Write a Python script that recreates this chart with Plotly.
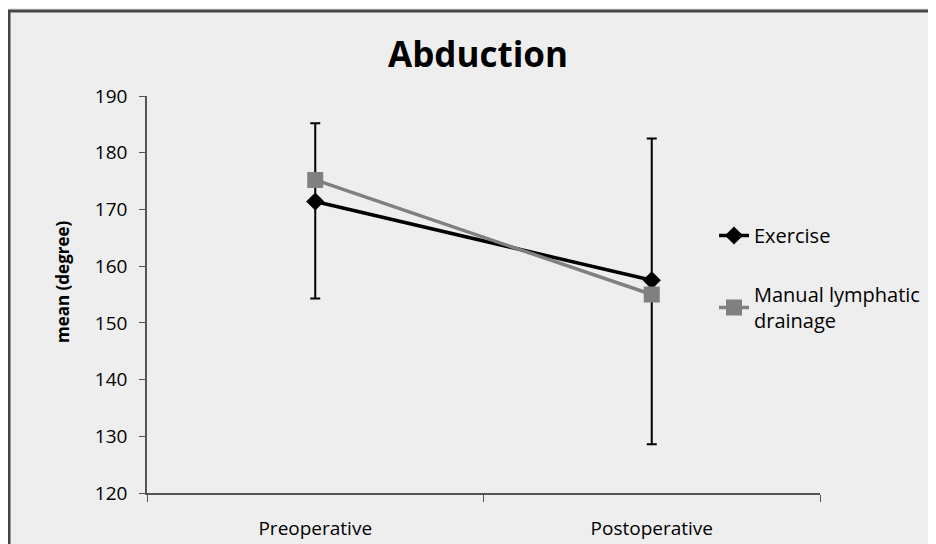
import plotly.graph_objects as go

categories = ["Preoperative", "Postoperative"]
exercise_mean = [171.4, 157.5]
exercise_err_plus = [13.8, 25.0]
exercise_err_minus = [17.1, 28.9]
mld_mean = [175.2, 155.0]
y_ticks = [120, 130, 140, 150, 160, 170, 180, 190]

W, H = 936, 544
OFF = 8  # page body offset in the screenshot
ml, mr, mt, mb = 147 - OFF, 936 - (820 - OFF), 96 - OFF, 544 - (493 - OFF)
pw, ph = W - ml - mr, H - mt - mb

FONT = "Open Sans"

fig = go.Figure()
fig.add_trace(go.Scatter(
    x=categories, y=exercise_mean, name="Exercise", mode="lines+markers",
    line=dict(color="#000000", width=3.5),
    marker=dict(symbol="diamond", size=14, color="#000000"),
    error_y=dict(type="data", symmetric=False, array=exercise_err_plus,
                 arrayminus=exercise_err_minus, color="#000000", thickness=2, width=5),
    legendgroup="a",
))
fig.add_trace(go.Scatter(
    x=categories, y=mld_mean, name="Manual lymphatic<br>drainage", mode="lines+markers",
    line=dict(color="#808080", width=3.5),
    marker=dict(symbol="square", size=16, color="#808080"),
    legendgroup="b",
))

bx = (9 - OFF - ml) / pw
by = 1 + (mt - (11 - OFF)) / ph
fig.add_shape(type="path", xref="paper", yref="paper",
              path=f"M {bx} -0.3 L {bx} {by} L 1.3 {by}",
              line=dict(color="#454545", width=3))

fig.add_annotation(text="<b>mean (degree)</b>", textangle=-90, showarrow=False,
                   xref="paper", yref="paper",
                   x=(62 - OFF - ml) / pw, y=1 - (282 - OFF - mt) / ph,
                   xanchor="center", yanchor="middle",
                   font=dict(family=FONT, size=17, color="#000000"))

fig.update_layout(
    width=W, height=H,
    margin=dict(l=ml, r=mr, t=mt, b=mb),
    paper_bgcolor="#EEEEEE", plot_bgcolor="#EEEEEE",
    font=dict(family=FONT, size=19, color="#000000"),
    title=dict(text="<b>Abduction</b>", x=(478 - OFF) / W, xanchor="center",
               y=1 - (55 - OFF) / H, yanchor="middle",
               font=dict(family=FONT, size=35, color="#000000")),
    showlegend=True,
    legend=dict(x=(714 - OFF - ml) / pw, xanchor="left", y=1 - (216 - OFF - mt) / ph,
                yanchor="top", bgcolor="rgba(0,0,0,0)", tracegroupgap=30,
                font=dict(family=FONT, size=20, color="#000000")),
    xaxis=dict(type="category", range=[-0.5, 1.5], showline=True, linecolor="#555555",
               linewidth=1.5, ticks="outside", ticklen=7, tickcolor="#555555",
               tickson="boundaries", showgrid=False, zeroline=False,
               ticklabelstandoff=17,
               tickfont=dict(family=FONT, size=19)),
    yaxis=dict(range=[120, 190], tickvals=y_ticks, showline=True, linecolor="#555555",
               linewidth=1.5, ticks="outside", ticklen=6, tickcolor="#555555",
               showgrid=False, zeroline=False, ticklabelstandoff=8,
               tickfont=dict(family=FONT, size=19)),
)

fig.write_html("out.html")
